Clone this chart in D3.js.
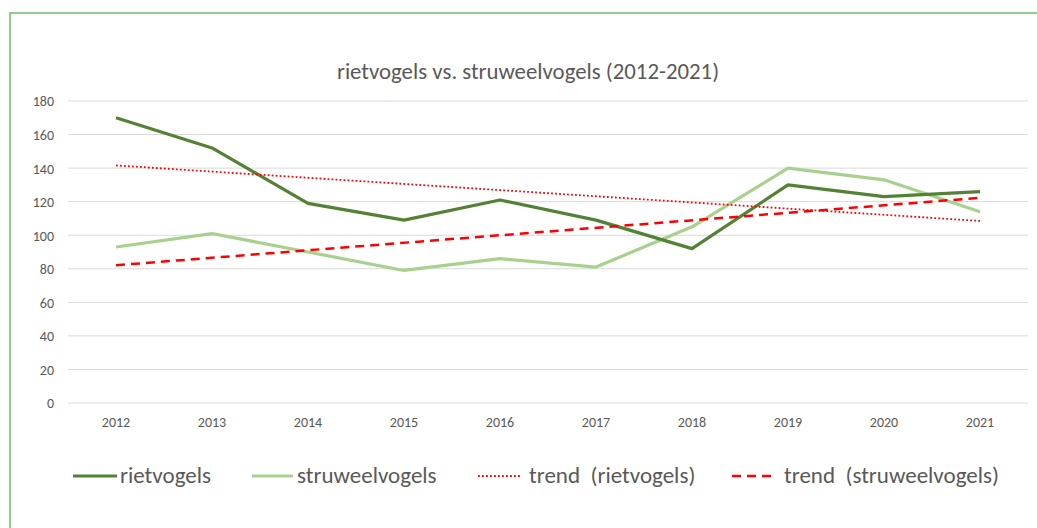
<!DOCTYPE html>
<html>
<head>
<meta charset="utf-8">
<script src="https://cdn.jsdelivr.net/npm/d3@7"></script>
<style>
  html, body { margin: 0; padding: 0; background: #fff; }
  svg { display: block; }
</style>
</head>
<body>
<svg id="chart" width="1037" height="528"></svg>
<script>
// ---- data ----
const years = ["2012","2013","2014","2015","2016","2017","2018","2019","2020","2021"];
const rietvogels = [170, 152, 119, 109, 121, 109, 92, 130, 123, 126];
const struweelvogels = [93, 101, 90, 79, 86, 81, 105, 140, 133, 114];
// trend line endpoints (2012, 2021)
const trendRiet = [141.6, 108.5];
const trendStruweel = [82.1, 122.3];
const yTicks = [0, 20, 40, 60, 80, 100, 120, 140, 160, 180];
const title = "rietvogels vs. struweelvogels (2012-2021)";
const legendLabels = ["rietvogels", "struweelvogels", "trend\u00A0\u00A0(rietvogels)", "trend\u00A0\u00A0(struweelvogels)"];

(function () {
// ---- layout ----
const svg = d3.select("#chart");
const W = 1037, H = 528;
const fontFam = "Carlito, Calibri, 'Open Sans', 'Noto Sans', sans-serif";
const textCol = "#595959";
const darkGreen = "#548235";
const lightGreen = "#a9d18e";
const red = "#ff0000";

// border
svg.append("path")
  .attr("d", `M10,${H+5} L10,13 L${W+5},13`)
  .attr("fill", "none").attr("stroke", "#8fcf8a").attr("stroke-width", 2);

const pLeft = 68, pRight = 1028, pTop = 101, pBottom = 403;
const x = d3.scaleBand().domain(years).range([pLeft, pRight]);
const y = d3.scaleLinear().domain([0, 180]).range([pBottom, pTop]);

// gridlines
svg.append("g").selectAll("line").data(yTicks).join("line")
  .attr("x1", pLeft).attr("x2", pRight)
  .attr("y1", d => y(d)).attr("y2", d => y(d))
  .attr("stroke", "#d9d9d9").attr("stroke-width", 1);

// y axis
const yAxis = d3.axisLeft(y).tickValues(yTicks).tickSize(0).tickPadding(0);
const yg = svg.append("g").attr("transform", `translate(54,0)`).call(yAxis);
yg.select(".domain").remove();
yg.selectAll("text").attr("fill", textCol).style("font-family", fontFam).style("font-size", "14px")
  .attr("text-anchor", "end").attr("dy", "0.35em");

// x axis
const xAxis = d3.axisBottom(x).tickSize(0).tickPadding(0);
const xg = svg.append("g").attr("transform", `translate(0,${pBottom + 19})`).call(xAxis);
xg.select(".domain").remove();
xg.selectAll("text").attr("fill", textCol).style("font-family", fontFam).style("font-size", "14px")
  .attr("dy", "0.35em");

// title
svg.append("text").attr("x", 528).attr("y", 79).attr("text-anchor", "middle")
  .attr("fill", textCol).style("font-family", fontFam).style("font-size", "22.8px")
  .text(title);

const cx = d => x(d) + x.bandwidth() / 2;
const line = d3.line().x(d => cx(d[0])).y(d => y(d[1]));

// series
svg.append("path").datum(years.map((yr, i) => [yr, struweelvogels[i]]))
  .attr("d", line).attr("fill", "none").attr("stroke", lightGreen)
  .attr("stroke-width", 3.2).attr("stroke-linejoin", "round");
svg.append("path").datum(years.map((yr, i) => [yr, rietvogels[i]]))
  .attr("d", line).attr("fill", "none").attr("stroke", darkGreen)
  .attr("stroke-width", 3.2).attr("stroke-linejoin", "round");

// trend lines
const ends = [years[0], years[years.length - 1]];
svg.append("path").datum(ends.map((yr, i) => [yr, trendRiet[i]]))
  .attr("d", line).attr("fill", "none").attr("stroke", red)
  .attr("stroke-width", 1.8).attr("stroke-dasharray", "1.8,2.2");
svg.append("path").datum(ends.map((yr, i) => [yr, trendStruweel[i]]))
  .attr("d", line).attr("fill", "none").attr("stroke", red)
  .attr("stroke-width", 2.5).attr("stroke-dasharray", "9,6");

// legend
const legY = 476;
const legItems = [
  { x0: 73, x1: 117, tx: 120, col: darkGreen, w: 3.2, dash: null },
  { x0: 252, x1: 293, tx: 297, col: lightGreen, w: 3.2, dash: null },
  { x0: 478, x1: 522, tx: 529, col: red, w: 1.8, dash: "1.8,2.2" },
  { x0: 732, x1: 774, tx: 784, col: red, w: 2.5, dash: "9,6" }
];
const lg = svg.append("g");
legItems.forEach((it, i) => {
  lg.append("line").attr("x1", it.x0).attr("x2", it.x1).attr("y1", legY).attr("y2", legY)
    .attr("stroke", it.col).attr("stroke-width", it.w)
    .attr("stroke-dasharray", it.dash);
  lg.append("text").attr("x", it.tx).attr("y", legY).attr("dy", "0.32em")
    .attr("fill", textCol).style("font-family", fontFam).style("font-size", "23px")
    .text(legendLabels[i]);
});
})();
</script>
</body>
</html>
